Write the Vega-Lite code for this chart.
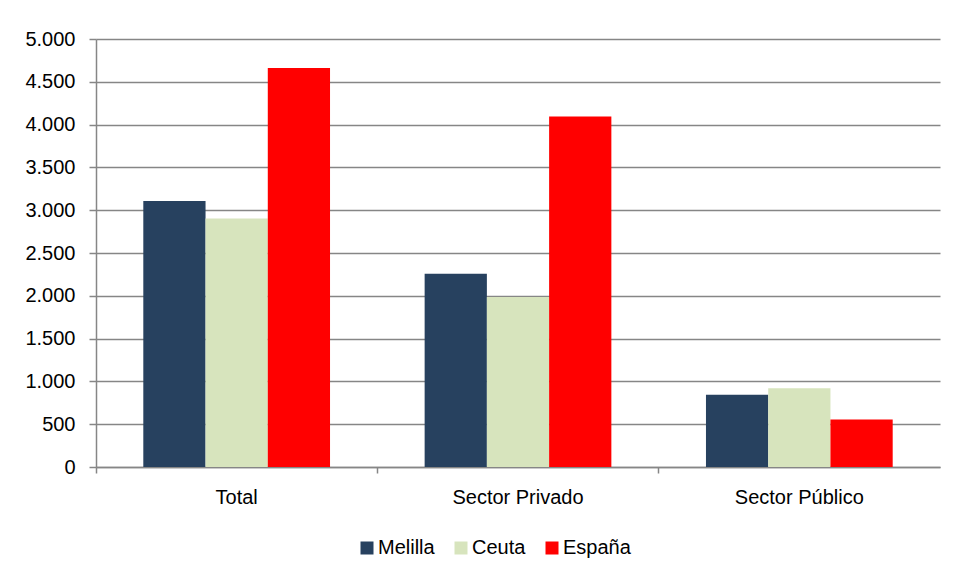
{
  "$schema": "https://vega.github.io/schema/vega-lite/v6.json",
  "autosize": "none",
  "width": 844,
  "height": 428,
  "padding": {"left": 96, "top": 39, "right": 18, "bottom": 113},
  "background": "white",
  "data": {
    "values": [
      {"sector": "Total", "region": "Melilla", "value": 3108},
      {"sector": "Total", "region": "Ceuta", "value": 2902},
      {"sector": "Total", "region": "España", "value": 4661},
      {"sector": "Sector Privado", "region": "Melilla", "value": 2259},
      {"sector": "Sector Privado", "region": "Ceuta", "value": 1987},
      {"sector": "Sector Privado", "region": "España", "value": 4096},
      {"sector": "Sector Público", "region": "Melilla", "value": 843},
      {"sector": "Sector Público", "region": "Ceuta", "value": 920},
      {"sector": "Sector Público", "region": "España", "value": 555}
    ]
  },
  "mark": {"type": "bar"},
  "encoding": {
    "x": {
      "field": "sector",
      "type": "nominal",
      "sort": ["Total", "Sector Privado", "Sector Público"],
      "scale": {"paddingInner": 0, "paddingOuter": 0},
      "axis": {
        "title": null,
        "labelAngle": 0,
        "bandPosition": 0,
        "ticks": true,
        "tickSize": 6,
        "tickColor": "#868686",
        "domainColor": "#868686",
        "domainWidth": 1.5,
        "tickWidth": 1.5,
        "labelPadding": 14,
        "labelFont": "Liberation Sans",
        "labelFontSize": 20,
        "labelColor": "#000000",
        "labelBound": false,
        "labelFlush": false
      }
    },
    "xOffset": {
      "field": "region",
      "type": "nominal",
      "sort": ["Melilla", "Ceuta", "España"],
      "scale": {"paddingInner": 0, "paddingOuter": 0.76}
    },
    "y": {
      "field": "value",
      "type": "quantitative",
      "scale": {"domain": [0, 5000], "nice": false},
      "axis": {
        "title": null,
        "values": [0, 500, 1000, 1500, 2000, 2500, 3000, 3500, 4000, 4500, 5000],
        "labelExpr": "replace(format(datum.value, ','), ',', '.')",
        "grid": true,
        "gridColor": "#868686",
        "gridWidth": 1.5,
        "gridOpacity": 1,
        "tickSize": 7,
        "tickColor": "#868686",
        "tickWidth": 1.5,
        "domainColor": "#868686",
        "domainWidth": 1.5,
        "labelPadding": 14,
        "labelFont": "Liberation Sans",
        "labelFontSize": 20,
        "labelColor": "#000000"
      }
    },
    "color": {
      "field": "region",
      "type": "nominal",
      "sort": ["Melilla", "Ceuta", "España"],
      "scale": {"domain": ["Melilla", "Ceuta", "España"], "range": ["#27415F", "#D7E4BD", "#FF0000"]},
      "legend": {
        "title": null,
        "orient": "none",
        "direction": "horizontal",
        "legendX": 261,
        "legendY": 499,
        "symbolType": "square",
        "symbolSize": 169,
        "symbolStrokeWidth": 0,
        "symbolOpacity": 1,
        "labelFont": "Liberation Sans",
        "labelFontSize": 20,
        "labelColor": "#000000",
        "columnPadding": 16,
        "labelOffset": 1
      }
    }
  },
  "config": {
    "view": {"stroke": null}
  }
}
